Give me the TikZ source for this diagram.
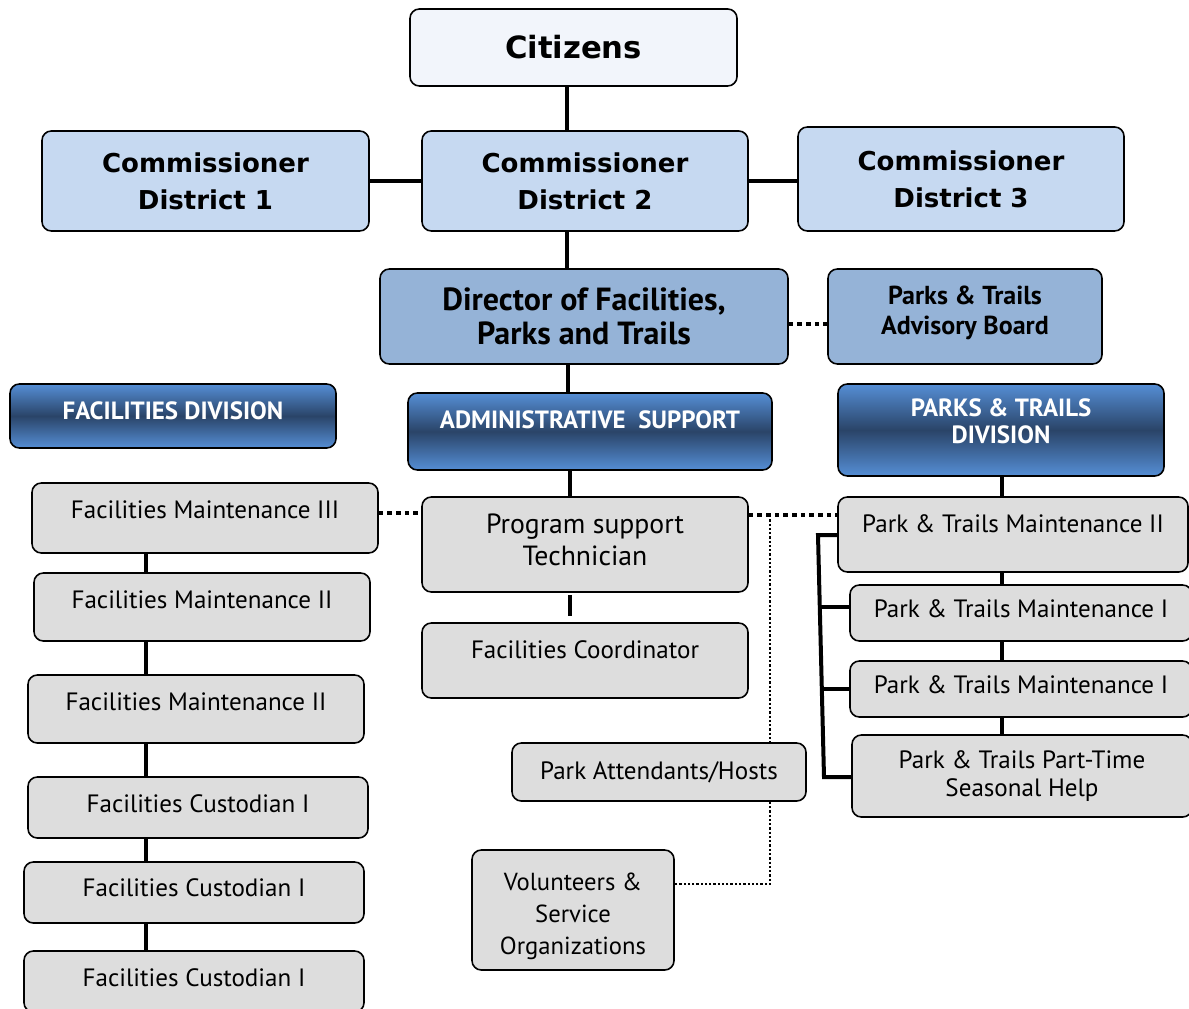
\documentclass[tikz,border=0pt]{standalone}
\usepackage{fontspec}
\setmainfont{PT Sans}
\newfontfamily\hdfont{DejaVu Sans}
\definecolor{citfill}{HTML}{F2F5FB}
\definecolor{comfill}{HTML}{C6D9F1}
\definecolor{dirfill}{HTML}{95B3D7}
\definecolor{grayfill}{HTML}{DDDDDD}
\definecolor{gradA}{HTML}{558ED5}
\definecolor{gradD}{HTML}{2A4468}
\begin{document}
\begin{tikzpicture}[x=0.75pt,y=-0.75pt,
 base/.style={draw=black, line width=1.2pt, rounded corners=7pt, align=center, inner sep=2pt},
 wh/.style 2 args={minimum width=#1*0.75pt, minimum height=#2*0.75pt},
 raise/.style={text depth=0.25em+#1*1.5pt},
 citbox/.style={base, fill=citfill, font=\hdfont\bfseries\fontsize{23}{28}\selectfont},
 combox/.style={base, fill=comfill, font=\hdfont\bfseries\fontsize{19.5}{28}\selectfont},
 dirbox/.style={base, fill=dirfill, font=\bfseries\fontsize{24}{25}\selectfont},
 advfont/.style={font=\bfseries\fontsize{19.5}{22.5}\selectfont},
 divbox/.style={base, top color=gradA, bottom color=gradA, middle color=gradD, text=white, font=\bfseries\fontsize{18.7}{20}\selectfont},
 graybox/.style={base, fill=grayfill, font=\fontsize{18.8}{21}\selectfont},
 bigtext/.style={font=\fontsize{20.8}{24}\selectfont},
 voltext/.style={font=\fontsize{18.5}{24}\selectfont},
 solidln/.style={line width=3pt},
 dotln/.style={line width=3.5pt, dash pattern=on 3.5pt off 3pt},
 thindot/.style={line width=1.7pt, dash pattern=on 1.7pt off 1.5pt},
]
\useasboundingbox (0,0) rectangle (1189,1009);
\fill[white] (0,0) rectangle (1189,1009);
\begin{scope}
\clip (0,0) rectangle (1189,1009);
% nodes
\node[citbox, wh={327}{77}] (cit) at (573.5,47.5) {Citizens};
\node[combox, wh={327}{100}] (c1) at (205.5,181) {Commissioner\\District 1};
\node[combox, wh={326}{100}] (c2) at (585,181) {Commissioner\\District 2};
\node[combox, wh={326}{104}] (c3) at (961,179) {Commissioner\\District 3};
\node[dirbox, wh={408}{95}] (dir) at (584,316.5) {Director of Facilities,\\Parks and Trails};
\node[dirbox, advfont, raise=5, wh={274}{95}] (adv) at (965,316.5) {Parks \& Trails\\Advisory Board};
\node[divbox, raise=4, wh={326}{64}] (fdiv) at (173,416) {FACILITIES DIVISION};
\node[divbox, raise=10, wh={364}{77}] (adm) at (590,431.5) {ADMINISTRATIVE\ \ SUPPORT};
\node[divbox, raise=7, wh={326}{92}] (pdiv) at (1001,430) {PARKS \& TRAILS\\DIVISION};
\node[graybox, bigtext, raise=3.5, wh={326}{95}] (pst) at (585,544.5) {Program support\\Technician};
\node[graybox, raise=9.5, wh={326}{75}] (fco) at (585,660.5) {Facilities Coordinator};
\node[graybox, raise=7, wh={346}{70}] (fm3) at (205,518) {Facilities Maintenance III};
\node[graybox, raise=6, wh={336}{68}] (fm2a) at (202,607) {Facilities Maintenance II};
\node[graybox, raise=6, wh={336}{68}] (fm2b) at (196,709) {Facilities Maintenance II};
\node[graybox, raise=2.5, wh={340}{61}] (fc1) at (198,807.5) {Facilities Custodian I};
\node[graybox, raise=3.5, wh={340}{61}] (fc2) at (194,892.5) {Facilities Custodian I};
\node[graybox, raise=2.5, wh={340}{61}] (fc3) at (194,981.5) {Facilities Custodian I};
\node[graybox, raise=9.5, wh={350}{75}] (pm2) at (1013,534.5) {Park \& Trails Maintenance II};
\node[graybox, raise=3, wh={342}{56}] (pm1a) at (1021,613) {Park \& Trails Maintenance I};
\node[graybox, raise=3, wh={342}{56}] (pm1b) at (1021,689) {Park \& Trails Maintenance I};
\node[graybox, wh={340}{82}] (ppt) at (1022,776) {Park \& Trails Part-Time\\Seasonal Help};
\node[graybox, wh={294}{58}] (pah) at (659,772) {Park Attendants/Hosts};
\node[graybox, voltext, wh={202}{120}] (vol) at (573,910) {\rule{0pt}{22pt}Volunteers \&\\Service\\Organizations};
% helper coordinates
\coordinate (cx1) at (567,0);
\coordinate (cx2) at (568,0);
\coordinate (cx3) at (570,0);
\coordinate (fcol) at (146,0);
\coordinate (pcol) at (1002,0);
\coordinate (dy) at (0,324);
\coordinate (ly) at (0,513);
\coordinate (ry) at (0,515);
\coordinate (j1) at (770,515);
\coordinate (j2) at (770,884);
\coordinate (bt) at (818,535);
\coordinate (t1) at (821,607);
\coordinate (t2) at (822,689);
\coordinate (bb) at (824,777);
% connectors
\draw[solidln] (cit.south -| cx1) -- (c2.north -| cx1);
\draw[solidln] (c1.east) -- (c2.west |- c1.east);
\draw[solidln] (c2.east) -- (c3.west |- c2.east);
\draw[solidln] (c2.south -| cx1) -- (dir.north -| cx1);
\draw[dotln] (dir.east |- dy) -- (adv.west |- dy);
\draw[solidln] (dir.south -| cx2) -- (adm.north -| cx2);
\draw[solidln] (adm.south -| cx3) -- (pst.north -| cx3);
\draw[solidln, shorten <=2pt, shorten >=4.5pt] (pst.south -| cx3) -- (fco.north -| cx3);
\draw[dotln] (fm3.east |- ly) -- (pst.west |- ly);
\draw[dotln] (pst.east |- ry) -- (pm2.west |- ry);
\draw[thindot] (j1) -- (pah.north -| j1);
\draw[thindot] (pah.south -| j2) -- (j2) -- (vol.east |- j2);
\draw[solidln] (fm3.south -| fcol) -- (fm2a.north -| fcol);
\draw[solidln] (fm2a.south -| fcol) -- (fm2b.north -| fcol);
\draw[solidln] (fm2b.south -| fcol) -- (fc1.north -| fcol);
\draw[solidln] (fc1.south -| fcol) -- (fc2.north -| fcol);
\draw[solidln] (fc2.south -| fcol) -- (fc3.north -| fcol);
\draw[solidln] (pdiv.south -| pcol) -- (pm2.north -| pcol);
\draw[solidln] (pm2.south -| pcol) -- (pm1a.north -| pcol);
\draw[solidln] (pm1a.south -| pcol) -- (pm1b.north -| pcol);
\draw[solidln] (pm1b.south -| pcol) -- (ppt.north -| pcol);
\draw[solidln] (pm2.west |- bt) -- (bt) -- (bb) -- (ppt.west |- bb);
\draw[solidln] (t1) -- (pm1a.west |- t1);
\draw[solidln] (t2) -- (pm1b.west |- t2);
\end{scope}
\end{tikzpicture}
\end{document}
